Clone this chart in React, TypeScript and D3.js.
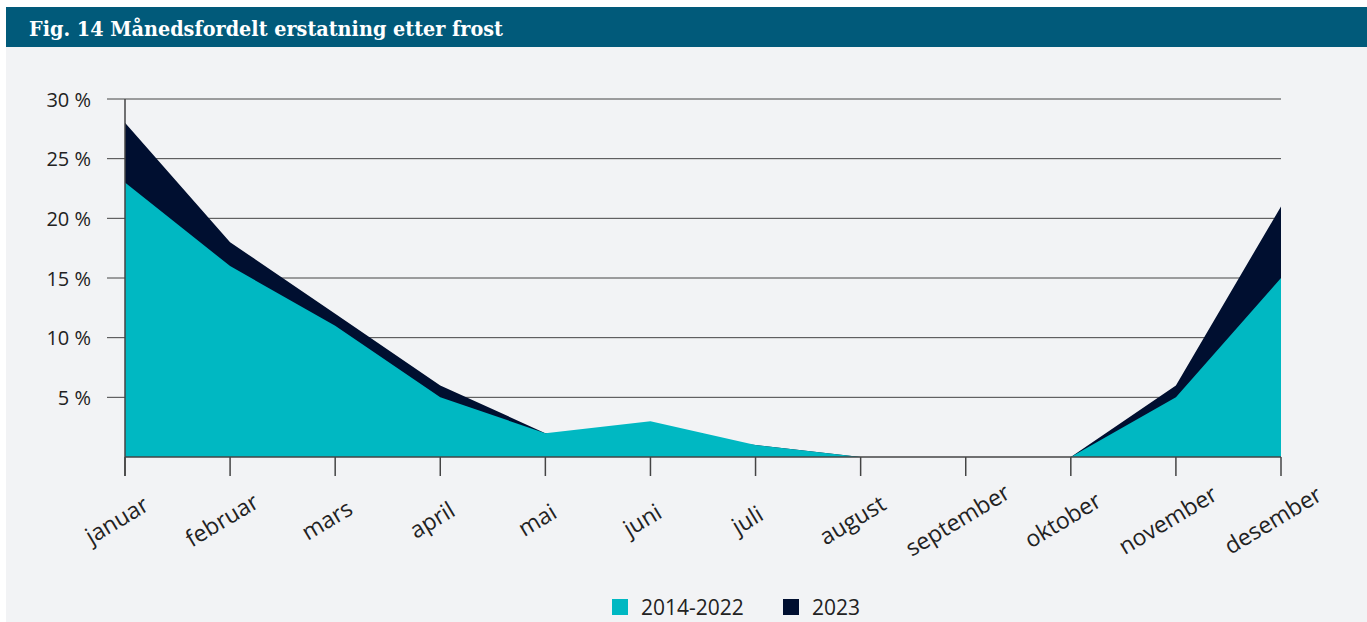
import React from "react";
import * as d3 from "d3";

const months = ["januar", "februar", "mars", "april", "mai", "juni", "juli", "august", "september", "oktober", "november", "desember"];
const series2014_2022 = [23, 16, 11, 5, 2, 3, 1, 0, 0, 0, 5, 15];
const series2023 = [28, 18, 12, 6, 2, 2, 1, 0, 0, 0, 6, 21];
const yTicks = [5, 10, 15, 20, 25, 30];
const legendLabels = ["2014-2022", "2023"];

const COLORS = { teal: "#00b8c2", dark: "#000f30", bar: "#015a7a", bg: "#f2f3f5", text: "#222", grid: "#444" };

export default function App() {
  const x = d3.scalePoint<string>().domain(months).range([125, 1281]);
  const y = d3.scaleLinear().domain([0, 30]).range([457, 99]);
  const area = d3
    .area<number>()
    .x((_, i) => x(months[i]) as number)
    .y0(y(0))
    .y1((d) => y(d));
  const font = "'Open Sans', sans-serif";
  return (
    <svg width={1367} height={622} style={{ position: "absolute", left: 0, top: 0 }}>
      <rect x={6} y={7} width={1361} height={615} fill={COLORS.bg} />
      <rect x={6} y={7} width={1361} height={40} fill={COLORS.bar} />
      <text x={29} y={36} fill="#fff" fontFamily="'DejaVu Serif', serif" fontWeight="bold" fontSize={21} textLength={474} lengthAdjust="spacingAndGlyphs">
        Fig. 14 Månedsfordelt erstatning etter frost
      </text>
      {yTicks.map((t) => (
        <g key={t}>
          <line x1={107} x2={1281} y1={y(t)} y2={y(t)} stroke={COLORS.grid} strokeWidth={1} />
          <text x={91} y={y(t)} textAnchor="end" dominantBaseline="central" fontFamily={font} fontSize={20} fill={COLORS.text}>
            {t} %
          </text>
        </g>
      ))}
      <path d={area(series2023) || ""} fill={COLORS.dark} />
      <path d={area(series2014_2022) || ""} fill={COLORS.teal} />
      <line x1={125} x2={125} y1={99} y2={476} stroke={COLORS.grid} strokeWidth={1.5} />
      <line x1={125} x2={1281} y1={457} y2={457} stroke={COLORS.grid} strokeWidth={1.5} />
      {months.map((m) => {
        const px = x(m) as number;
        return (
          <g key={m}>
            <line x1={px} x2={px} y1={457} y2={476} stroke={COLORS.grid} strokeWidth={1.5} />
            <text transform={`translate(${px - 4},${527}) rotate(-31)`} textAnchor="middle" fontFamily={font} fontSize={23} fill={COLORS.text}>
              {m}
            </text>
          </g>
        );
      })}
      {legendLabels.map((l, i) => {
        const lx = i === 0 ? 612 : 783;
        return (
          <g key={l}>
            <rect x={lx} y={599} width={16} height={16} fill={i === 0 ? COLORS.teal : COLORS.dark} />
            <text x={lx + 29} y={607} dominantBaseline="central" fontFamily={font} fontSize={21} fill={COLORS.text}>
              {l}
            </text>
          </g>
        );
      })}
    </svg>
  );
}
